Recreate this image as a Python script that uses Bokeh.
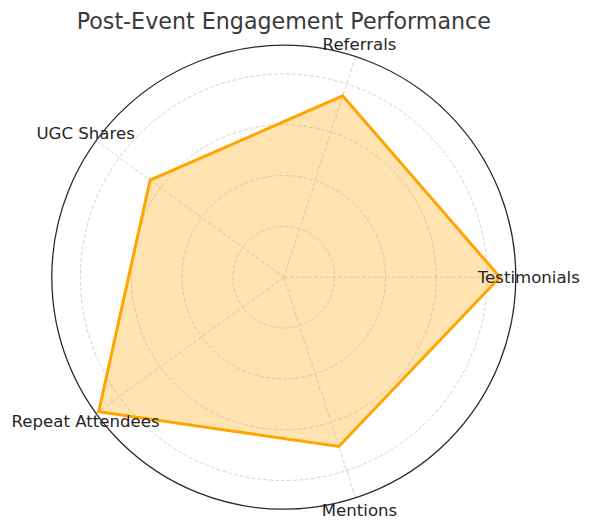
import numpy as np
from bokeh.plotting import figure
from bokeh.models import ColumnDataSource
from bokeh.core.properties import value
from bokeh.embed import file_html
from bokeh.resources import INLINE

# Datos del radar
categorias = ["Testimonials", "Referrals", "UGC Shares", "Repeat Attendees", "Mentions"]
valores = [85, 75, 65, 90, 70]
anillos = [20, 40, 60, 80]
r_max = 91.25
titulo = "Post-Event Engagement Performance"

# Geometria de la pagina (pixeles del marco)
W, H = 586, 525
cx, cy = 283.3, 276.7          # centro del radar en el marco
px = 232 / r_max               # pixeles por unidad

p = figure(width=W, height=H, output_backend="svg", toolbar_location=None,
           x_range=(-cx / px, (W - cx) / px), y_range=(-(H - cy) / px, cy / px),
           x_axis_type=None, y_axis_type=None, min_border=0)
p.grid.visible = False
p.outline_line_color = None
p.background_fill_color = "white"

n = len(categorias)
ang = np.arange(n) * 2 * np.pi / n

# anillos de la rejilla
p.circle(x=[0] * len(anillos), y=[0] * len(anillos), radius=anillos,
         fill_color=None, line_color="#c8c8c8", line_width=0.8, line_dash="4 2")
# radios
p.segment(x0=[0] * n, y0=[0] * n, x1=r_max * np.cos(ang), y1=r_max * np.sin(ang),
          line_color="#c8c8c8", line_width=0.8, line_dash="4 2")

# poligono
xs = [v * np.cos(a) for v, a in zip(valores, ang)]
ys = [v * np.sin(a) for v, a in zip(valores, ang)]
p.patch(xs + xs[:1], ys + ys[:1], fill_color="#FFA500", fill_alpha=0.3,
        line_color="#FFA500", line_width=3, line_join="miter")

# borde exterior
p.circle(x=[0], y=[0], radius=[r_max], fill_color=None,
         line_color="#2b2b2b", line_width=1.3)

# etiquetas
r_lab = 245 / px
src = ColumnDataSource(dict(x=r_lab * np.cos(ang), y=r_lab * np.sin(ang), t=categorias))
p.text(x="x", y="y", text="t", source=src, text_align="center", text_baseline="middle",
       text_font=value("DejaVu Sans"), text_font_size=value("16.6px"), text_color="#262626")

# titulo
p.text(x=[0], y=[(cy - 20) / px], text=[titulo], text_align="center", text_baseline="middle",
       text_font=value("DejaVu Sans"), text_font_size=value("22.2px"), text_color="#3a3a3a")

open("out.html", "w").write(file_html(p, INLINE))
